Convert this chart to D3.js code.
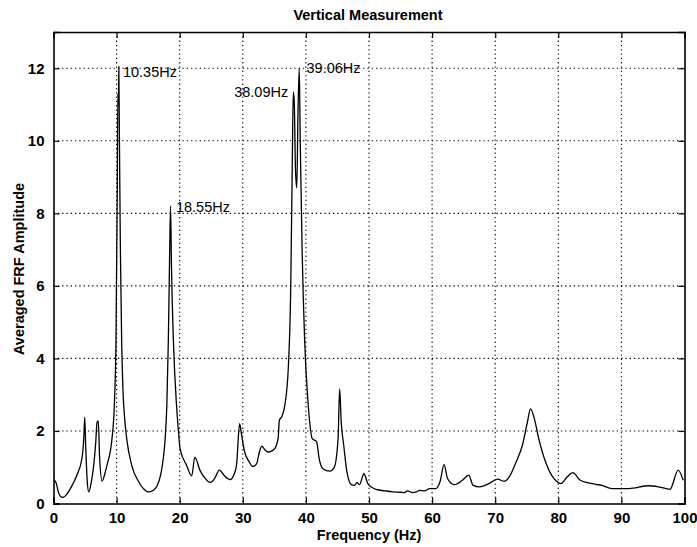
<!DOCTYPE html>
<html>
<head>
<meta charset="utf-8">
<script src="https://cdn.jsdelivr.net/npm/d3@7"></script>
<style>
  html, body { margin: 0; padding: 0; background: #fff; }
  svg { display: block; }
</style>
</head>
<body>
<svg id="chart" width="697" height="547"></svg>
<script>
// ---- data ----
const titleText = "Vertical Measurement";
const xLabelText = "Frequency (Hz)";
const yLabelText = "Averaged FRF Amplitude";

const xTicks = [0, 10, 20, 30, 40, 50, 60, 70, 80, 90, 100];
const yTicks = [0, 2, 4, 6, 8, 10, 12];

const freqs = [
  0.1, 0.4, 0.8, 1.1, 1.5, 2.2, 2.95, 3.7, 4.5, 4.8, 4.95, 5.1, 5.35, 5.58, 6.0, 6.37, 6.7, 6.9, 7.1, 7.3,
  7.7, 8.1, 8.47, 9.27, 9.64, 9.9, 10.1, 10.2, 10.3, 10.35, 10.45, 10.6, 10.8, 11.0, 11.3, 11.6, 12.4, 13.5, 14.3, 15.06, 15.8,
  16.4, 17.0, 17.4, 17.7, 17.96, 18.2, 18.4, 18.55, 18.7, 19.0, 19.5, 19.8, 20.06, 21.1, 21.9, 22.4, 23.2, 24.0, 24.8, 25.5, 26.3, 27.0,
  28.0, 28.6, 29.0, 29.5, 29.8, 30.3, 31.0, 31.6, 32.2, 32.6, 33.0, 33.5, 34.0, 34.6, 35.1, 35.6, 35.8, 36.2, 36.65, 37.2,
  37.6, 37.85, 38.0, 38.15, 38.35, 38.55, 38.75, 38.95, 39.1, 39.4, 39.8, 40.3, 40.6, 41.0, 41.7, 42.1, 42.7, 43.8, 44.5, 45.1,
  45.35, 45.6, 46.0, 46.5, 47.2, 47.7, 48.1, 48.5, 49.2, 49.8, 50.5, 51.1, 52.5, 53.8, 55.0, 55.6, 56.1, 56.9, 57.5, 58.0,
  58.8, 59.6, 60.6, 61.25, 61.9, 62.45, 63.5, 64.8, 65.8, 66.5, 67.5, 69.0, 70.4, 71.4, 72.2, 73.3, 74.3, 75.1, 75.6, 76.2,
  76.9, 78.0, 79.3, 80.4, 81.4, 82.3, 83.5, 85.9, 86.9, 88.5, 91.2, 94.3, 95.9, 97.7, 99.0, 99.8
];
const amps = [
  0.65, 0.58, 0.3, 0.2, 0.17, 0.28, 0.5, 0.78, 1.24, 1.8, 2.38, 1.6, 0.6, 0.32, 0.6, 1.05, 1.7, 2.24, 2.28, 1.3,
  0.62, 0.8, 1.05, 1.79, 2.7, 4.5, 8.5, 11.3, 11.0, 12.05, 10.0, 7.0, 4.5, 3.16, 2.3, 1.79, 1.05, 0.6, 0.4, 0.32, 0.36,
  0.48, 0.8, 1.24, 1.8, 2.7, 4.5, 6.8, 8.2, 6.5, 4.5, 2.7, 2.0, 1.51, 1.05, 0.76, 1.28, 0.92, 0.7, 0.58, 0.68, 0.92, 0.78,
  0.66, 0.8, 1.05, 2.2, 1.9, 1.42, 1.15, 1.02, 1.1, 1.4, 1.58, 1.48, 1.42, 1.45, 1.52, 1.8, 2.3, 2.4, 2.7, 3.7,
  6.0, 9.5, 11.35, 11.1, 9.2, 8.7, 10.8, 12.0, 10.0, 7.0, 4.5, 2.88, 2.24, 1.79, 1.7, 1.24, 0.96, 0.89, 1.0, 1.79,
  3.16, 2.24, 1.6, 0.87, 0.52, 0.5, 0.58, 0.52, 0.82, 0.55, 0.44, 0.39, 0.35, 0.32, 0.31, 0.3, 0.35, 0.3, 0.32, 0.36,
  0.35, 0.41, 0.41, 0.6, 1.07, 0.69, 0.52, 0.64, 0.78, 0.5, 0.46, 0.55, 0.67, 0.61, 0.73, 1.14, 1.6, 2.24, 2.61, 2.34,
  1.79, 1.14, 0.69, 0.55, 0.73, 0.85, 0.64, 0.53, 0.5, 0.41, 0.41, 0.49, 0.46, 0.39, 0.92, 0.64
];

// peak annotations: text, anchor frequency, anchor amplitude, alignment
const peakLabels = ["10.35Hz", "18.55Hz", "38.09Hz", "39.06Hz"];
const peakLabelFreq = [11.0, 19.4, 37.2, 40.1];
const peakLabelAmp = [11.76, 8.03, 11.2, 11.87];
const peakLabelAnchor = ["start", "start", "end", "start"];

// ---- drawing ----
const svg = d3.select("#chart");
const x = d3.scaleLinear().domain([0, 100]).range([53.5, 684.5]);
const y = d3.scaleLinear().domain([0, 13]).range([503.5, 32]);
const font = "'Liberation Sans', Arial, Helvetica, sans-serif";

// grid
const grid = svg.append("g").attr("stroke", "#000").attr("stroke-width", 1.1)
  .attr("stroke-dasharray", "1.3,3").attr("fill", "none");
grid.selectAll("line.v").data(xTicks.filter(d => d > 0 && d < 100)).enter().append("line")
  .attr("x1", d => x(d)).attr("x2", d => x(d)).attr("y1", y(13)).attr("y2", y(0));
grid.selectAll("line.h").data(yTicks.filter(d => d > 0)).enter().append("line")
  .attr("y1", d => y(d)).attr("y2", d => y(d)).attr("x1", x(0)).attr("x2", x(100));

// curve
const pts = freqs.map((f, i) => [f, amps[i]]);
svg.append("path").datum(pts)
  .attr("fill", "none").attr("stroke", "#000").attr("stroke-width", 1.3)
  .attr("stroke-linejoin", "round")
  .attr("d", d3.line().curve(d3.curveMonotoneX).x(d => x(d[0])).y(d => y(d[1])));

// axes
const tickLen = 6;
const xAxisB = d3.axisBottom(x).tickValues(xTicks).tickSize(-tickLen).tickPadding(9).tickFormat(d3.format("d"));
const xAxisT = d3.axisTop(x).tickValues(xTicks).tickSize(-tickLen).tickFormat("");
const yAxisL = d3.axisLeft(y).tickValues(yTicks).tickSize(-tickLen).tickPadding(9).tickFormat(d3.format("d"));
const yAxisR = d3.axisRight(y).tickValues(yTicks).tickSize(-tickLen).tickFormat("");

function style(g) {
  g.select(".domain").attr("stroke", "#000").attr("stroke-width", 1.6);
  g.selectAll(".tick line").attr("stroke", "#000").attr("stroke-width", 1.2);
  g.selectAll(".tick text").attr("fill", "#000").attr("font-family", font)
    .attr("font-weight", "bold").attr("font-size", "15px");
}
svg.append("g").attr("transform", `translate(0,${y(0)})`).call(xAxisB).call(style);
svg.append("g").attr("transform", `translate(0,${y(13)})`).call(xAxisT).call(style);
svg.append("g").attr("transform", `translate(${x(0)},0)`).call(yAxisL).call(style);
svg.append("g").attr("transform", `translate(${x(100)},0)`).call(yAxisR).call(style);

// peak labels
svg.append("g").selectAll("text").data(peakLabels).enter().append("text")
  .attr("x", (d, i) => x(peakLabelFreq[i]))
  .attr("y", (d, i) => y(peakLabelAmp[i]))
  .attr("text-anchor", (d, i) => peakLabelAnchor[i])
  .attr("font-family", font).attr("font-size", "14.5px").attr("fill", "#000")
  .text(d => d);

// title and axis labels
svg.append("text").attr("x", 368).attr("y", 20).attr("text-anchor", "middle")
  .attr("font-family", font).attr("font-weight", "bold").attr("font-size", "14.5px")
  .text(titleText);
svg.append("text").attr("x", 369).attr("y", 540).attr("text-anchor", "middle")
  .attr("font-family", font).attr("font-weight", "bold").attr("font-size", "14.5px")
  .text(xLabelText);
svg.append("text").attr("transform", "translate(24,269) rotate(-90)").attr("text-anchor", "middle")
  .attr("font-family", font).attr("font-weight", "bold").attr("font-size", "14.5px")
  .text(yLabelText);
</script>
</body>
</html>
